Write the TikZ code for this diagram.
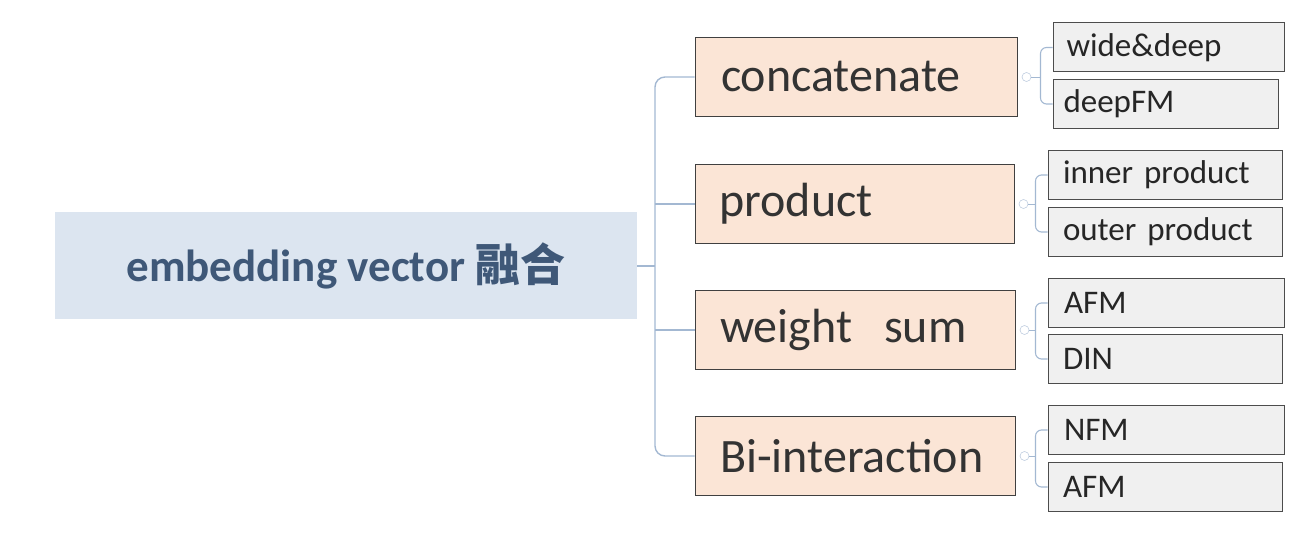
\documentclass[tikz,border=0pt]{standalone}
\usepackage{fontspec}
\setmainfont{Carlito}
\newfontfamily\cjk{Noto Sans CJK SC}
\begin{document}
\begin{tikzpicture}[x=1pt,y=-1pt,
 root/.style={fill=rootfill,draw=none,minimum width=582pt,minimum height=107pt,inner sep=0pt,text=roottext,font=\fontsize{45}{48}\selectfont\bfseries},
 br/.style={fill=brfill,draw=black!75,line width=1pt,minimum width=320pt,minimum height=79pt,inner sep=0pt,text=black!80,font=\fontsize{48}{52}\selectfont,text width=270pt,align=left},
 lf/.style={fill=black!6,draw=black!70,line width=1pt,minimum height=49pt,inner sep=0pt,text=black!85,font=\fontsize{33}{36}\selectfont,text width=204pt,align=left},
 con/.style={draw=linec,line width=1.4pt,rounded corners=10pt},
 dot/.style={circle,draw=linec!70,line width=0.6pt,minimum size=9pt,inner sep=0pt}]
\definecolor{rootfill}{HTML}{DCE5F0}
\definecolor{roottext}{HTML}{3F5878}
\definecolor{brfill}{HTML}{FBE5D6}
\definecolor{linec}{HTML}{A3B8D2}
\useasboundingbox (0,0) rectangle (1304,534);
\node[root] (r) at (346,266) {embedding vector {\cjk 融合}};
\node[br,minimum width=322pt] (b1) at (856,77) {concatenate};
\node[br,minimum width=319pt] (b2) at (854.5,204) {product};
\node[br] (b3) at (855,330) {weight\ \ sum};
\node[br] (b4) at (855,456) {Bi-interaction};
\node[lf,minimum width=231pt] (l1) at (1168.5,47.5) {wide\&deep};
\node[lf,minimum width=225pt] (l2) at (1165.5,104) {deepFM};
\node[lf,minimum width=234pt] (l3) at (1165,175) {inner product};
\node[lf,minimum width=234pt] (l4) at (1165,232) {outer product};
\node[lf,minimum width=236pt] (l5) at (1166,303) {AFM};
\node[lf,minimum width=234pt] (l6) at (1165,359) {DIN};
\node[lf,minimum width=236pt] (l7) at (1166,430) {NFM};
\node[lf,minimum width=234pt] (l8) at (1165,487) {AFM};
\coordinate (t) at (655,266);
\draw[con] (r.east) -- (t);
\draw[con] (b1.west) -- (655,77) -- (655,456) -- (b4.west);
\draw[con] (655,204) -- (b2.west);
\draw[con] (655,330) -- (b3.west);
\foreach \b/\la/\lb in {b1/l1/l2,b2/l3/l4,b3/l5/l6,b4/l7/l8}{
 \node[dot] (d\b) at ([xshift=9pt]\b.east) {};
 \draw[con,line width=1.1pt,rounded corners=6pt] (\la.west) -- ([xshift=-12pt]\la.west) -- ([xshift=-12pt]\lb.west) -- (\lb.west);
 \draw[con,line width=0.6pt] (d\b.east) -- ([xshift=-12pt]\la.west |- d\b.east);
}
\end{tikzpicture}
\end{document}
